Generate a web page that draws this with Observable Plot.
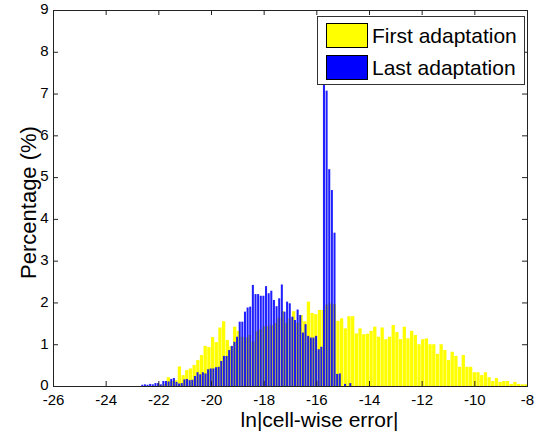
<!DOCTYPE html>
<html>
<head>
<meta charset="utf-8">
<script src="https://cdn.jsdelivr.net/npm/d3@7"></script>
<script src="https://cdn.jsdelivr.net/npm/@observablehq/plot@0.6"></script>
<style>
  html, body { margin: 0; padding: 0; background: #fff; }
  #wrap { position: relative; width: 539px; height: 436px; font-family: "Liberation Sans", Arial, Helvetica, sans-serif; }
  #legend { position: absolute; left: 317px; top: 16px; width: 206px; height: 67px; border: 1px solid #333; background: #fff; }
  .sw { position: absolute; left: 8px; width: 40px; height: 23px; border: 1px solid #000; }
  .lt { position: absolute; left: 54px; font-size: 21px; line-height: 25px; color: #000; white-space: nowrap; }
</style>
</head>
<body>
<div id="wrap"></div>
<script>
// Histogram of ln|cell-wise error|, percentage per bin
const seriesNames = ["First adaptation", "Last adaptation"];
const seriesColors = ["#ffff00", "#0000ff"];

// First adaptation: bin start and width, then percentages
const firstBinStart = -21.97;
const firstBinWidth = 0.14;
const firstValues = [
  0.03, 0.05, 0.21, 0.12, 0.14, 0.47, 0.26, 0.38, 0.42, 0.50,
  0.62, 0.74, 0.96, 0.93, 1.17, 1.05, 1.40, 1.55, 1.10, 0.95,
  1.42, 1.32, 1.18, 1.16, 1.22, 1.07, 1.31, 1.36, 1.43, 1.43,
  1.46, 1.51, 1.63, 1.79, 1.51, 1.62, 1.79, 1.51, 1.70, 1.55,
  2.02, 1.75, 1.72, 1.82, 1.82, 1.95, 1.98, 1.96, 1.56, 1.62,
  1.38, 1.67, 1.67, 1.26, 1.38, 1.24, 1.25, 1.32, 1.42, 1.18,
  1.40, 1.12, 1.18, 1.46, 1.29, 1.12, 1.42, 1.14, 1.32, 1.22,
  1.00, 1.12, 1.14, 1.00, 1.00, 0.77, 1.00, 0.86, 0.62, 0.82,
  0.72, 0.46, 0.74, 0.46, 0.46, 0.33, 0.33, 0.26, 0.33, 0.21,
  0.12, 0.19, 0.10, 0.12, 0.12, 0.05, 0.10, 0.05, 0.04, 0.04
];

// Last adaptation
const lastBinStart = -22.66;
const lastBinWidth = 0.1;
const lastValues = [
  0.03, 0.04, 0.03, 0.05, 0.04, 0.07, 0.07, 0.04, 0.12, 0.12,
  0.11, 0.17, 0.19, 0.10, 0.06, 0.07, 0.16, 0.17, 0.14, 0.15,
  0.24, 0.33, 0.28, 0.33, 0.30, 0.40, 0.42, 0.42, 0.45, 0.46,
  0.60, 0.72, 0.72, 0.86, 0.96, 1.06, 1.18, 1.54, 1.54, 1.78,
  1.88, 1.90, 2.42, 2.20, 2.20, 2.16, 2.16, 2.39, 2.22, 2.28,
  2.06, 1.91, 2.10, 2.43, 1.78, 2.02, 1.98, 1.66, 1.58, 1.83,
  1.70, 1.28, 1.48, 1.20, 1.16, 1.16, 1.20, 0.88, 0.94, 7.80,
  7.07, 5.19, 4.69, 3.67, 0.29, 0.30, 0.00, 0.05, 0.00, 0.07
];

const xTicks = [-26, -24, -22, -20, -18, -16, -14, -12, -10, -8];
const yTicks = [0, 1, 2, 3, 4, 5, 6, 7, 8, 9];
const xLabel = "ln|cell-wise error|";
const yLabel = "Percentage (%)";

const toBins = (start, w, vals) => vals.map((v, i) => ({x1: start + i * w, x2: start + (i + 1) * w, y: v}));
const firstBins = toBins(firstBinStart, firstBinWidth, firstValues);
const lastBins = toBins(lastBinStart, lastBinWidth, lastValues);

const xDom = [xTicks[0], xTicks[xTicks.length - 1]];
const yDom = [yTicks[0], yTicks[yTicks.length - 1]];
const tickLenX = 0.19; // inward tick length in x units
const tickLenY = 0.12; // inward tick length in y units
const fmt = d => d < 0 ? "-" + Math.abs(d) : String(d);

const chart = Plot.plot({
  width: 539,
  height: 436,
  marginLeft: 53,
  marginRight: 12,
  marginTop: 10,
  marginBottom: 50,
  style: {fontFamily: '"Liberation Sans", Arial, Helvetica, sans-serif', fontSize: "15px", color: "#000", background: "#fff"},
  x: {domain: xDom, ticks: xTicks, label: null, tickFormat: fmt},
  y: {domain: yDom, ticks: yTicks, label: null},
  marks: [
    Plot.rectY(firstBins, {x1: "x1", x2: "x2", y: "y", fill: seriesColors[0], insetLeft: 0.2, insetRight: 0.2}),
    Plot.rectY(lastBins, {x1: "x1", x2: "x2", y: "y", fill: seriesColors[1], fillOpacity: 0.88, insetLeft: 0.3, insetRight: 0.3}),
    Plot.frame({stroke: "#222", strokeWidth: 1}),
    Plot.ruleX(xTicks, {y1: yDom[0], y2: yDom[0] + tickLenY, stroke: "#222"}),
    Plot.ruleX(xTicks, {y1: yDom[1], y2: yDom[1] - tickLenY, stroke: "#222"}),
    Plot.ruleY(yTicks, {x1: xDom[0], x2: xDom[0] + tickLenX, stroke: "#222"}),
    Plot.ruleY(yTicks, {x1: xDom[1], x2: xDom[1] - tickLenX, stroke: "#222"}),
    Plot.axisX({ticks: xTicks, tickSize: 0, tickPadding: 8, fontSize: 15, tickFormat: fmt}),
    Plot.axisY({ticks: yTicks, tickSize: 0, tickPadding: 5, fontSize: 15, dy: -1}),
    Plot.text([xLabel], {frameAnchor: "bottom", textAnchor: "middle", dx: 29, dy: 34, fontSize: 21, lineAnchor: "middle"}),
    Plot.text([yLabel], {frameAnchor: "left", textAnchor: "middle", rotate: -90, dx: -25, dy: 4, fontSize: 22, lineAnchor: "middle"})
  ]
});

const wrap = document.getElementById("wrap");
wrap.appendChild(chart);

const legend = document.createElement("div");
legend.id = "legend";
seriesNames.forEach((name, i) => {
  const sw = document.createElement("div");
  sw.className = "sw";
  sw.style.top = (6 + i * 32) + "px";
  sw.style.background = seriesColors[i];
  legend.appendChild(sw);
  const t = document.createElement("div");
  t.className = "lt";
  t.style.top = (6 + i * 32) + "px";
  t.textContent = name;
  legend.appendChild(t);
});
wrap.appendChild(legend);
</script>
</body>
</html>
